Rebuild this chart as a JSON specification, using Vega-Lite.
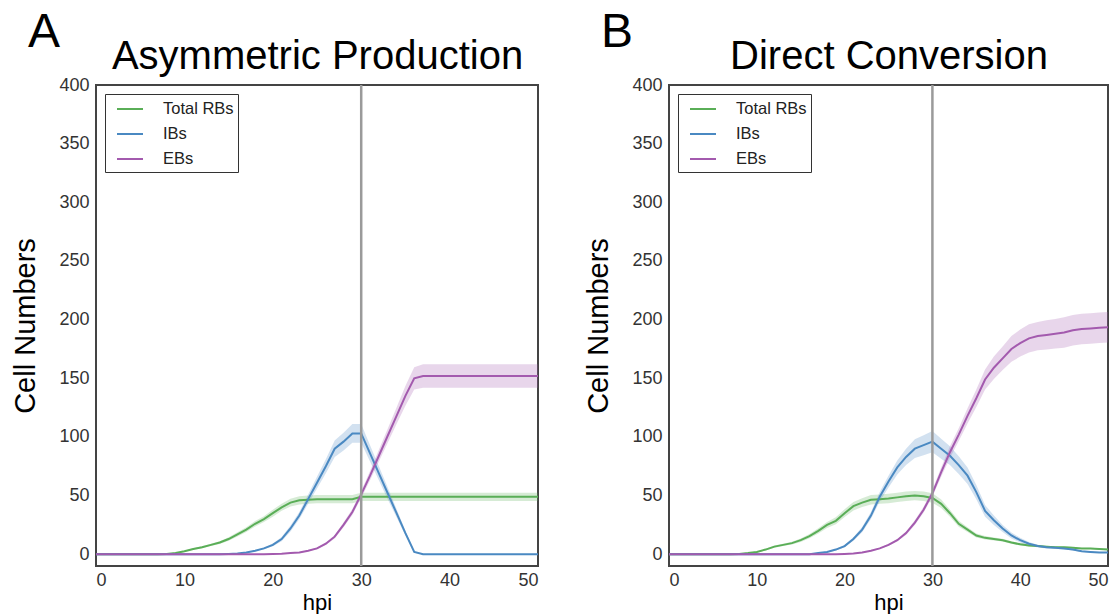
{
  "$schema": "https://vega.github.io/schema/vega-lite/v6.json",
  "padding": {"left": 10, "top": 8, "right": 5, "bottom": 0},
  "background": "white",
  "config": {
    "font": "Liberation Sans",
    "view": {"stroke": "#444444", "strokeWidth": 2},
    "axis": {"grid": false, "ticks": false, "tickSize": 0, "domain": false, "labelFontSize": 18, "labelColor": "#333333", "titleFontWeight": "normal", "titleColor": "#000000"},
    "title": {"fontWeight": "normal", "fontSize": 48, "anchor": "start", "frame": "bounds", "color": "#000000"}
  },
  "datasets": {
    "marker": [{"hpi": 30}],
    "A": [
      {"s":"Total RBs","t":0,"v":0,"lo":0,"hi":0},
      {"s":"Total RBs","t":7,"v":0,"lo":0,"hi":0},
      {"s":"Total RBs","t":8,"v":0.2,"lo":0.1,"hi":0.3},
      {"s":"Total RBs","t":9,"v":1,"lo":0.7,"hi":1.3},
      {"s":"Total RBs","t":10,"v":2.5,"lo":2,"hi":3},
      {"s":"Total RBs","t":11,"v":4.5,"lo":3.8,"hi":5.2},
      {"s":"Total RBs","t":12,"v":6,"lo":5.2,"hi":6.8},
      {"s":"Total RBs","t":13,"v":8,"lo":7,"hi":9},
      {"s":"Total RBs","t":14,"v":10,"lo":8.8,"hi":11.2},
      {"s":"Total RBs","t":15,"v":13,"lo":11.5,"hi":14.5},
      {"s":"Total RBs","t":16,"v":17,"lo":15.2,"hi":18.8},
      {"s":"Total RBs","t":17,"v":21,"lo":19,"hi":23},
      {"s":"Total RBs","t":18,"v":26,"lo":23.7,"hi":28.3},
      {"s":"Total RBs","t":19,"v":30,"lo":27.5,"hi":32.5},
      {"s":"Total RBs","t":20,"v":35,"lo":32,"hi":38},
      {"s":"Total RBs","t":21,"v":40,"lo":37,"hi":43},
      {"s":"Total RBs","t":22,"v":44,"lo":40.7,"hi":47.3},
      {"s":"Total RBs","t":23,"v":46,"lo":42.5,"hi":49.5},
      {"s":"Total RBs","t":24,"v":46.5,"lo":43,"hi":50},
      {"s":"Total RBs","t":25,"v":47,"lo":43.5,"hi":50.5},
      {"s":"Total RBs","t":29,"v":47,"lo":43.5,"hi":50.5},
      {"s":"Total RBs","t":30,"v":49,"lo":45.5,"hi":52.5},
      {"s":"Total RBs","t":50,"v":49,"lo":45.5,"hi":52.5},
      {"s":"IBs","t":0,"v":0,"lo":0,"hi":0},
      {"s":"IBs","t":14,"v":0,"lo":0,"hi":0},
      {"s":"IBs","t":15,"v":0.3,"lo":0.2,"hi":0.4},
      {"s":"IBs","t":16,"v":0.7,"lo":0.5,"hi":0.9},
      {"s":"IBs","t":17,"v":1.5,"lo":1.2,"hi":1.8},
      {"s":"IBs","t":18,"v":3,"lo":2.5,"hi":3.5},
      {"s":"IBs","t":19,"v":5,"lo":4.2,"hi":5.8},
      {"s":"IBs","t":20,"v":8,"lo":6.8,"hi":9.2},
      {"s":"IBs","t":21,"v":13,"lo":11.2,"hi":14.8},
      {"s":"IBs","t":22,"v":22,"lo":19.5,"hi":24.5},
      {"s":"IBs","t":23,"v":33,"lo":30,"hi":36},
      {"s":"IBs","t":24,"v":47,"lo":43,"hi":51},
      {"s":"IBs","t":25,"v":61,"lo":56,"hi":66},
      {"s":"IBs","t":26,"v":75,"lo":69,"hi":81},
      {"s":"IBs","t":27,"v":90,"lo":83,"hi":97},
      {"s":"IBs","t":28,"v":96,"lo":88.5,"hi":103.5},
      {"s":"IBs","t":29,"v":103,"lo":95,"hi":111},
      {"s":"IBs","t":30,"v":103,"lo":95,"hi":111},
      {"s":"IBs","t":31,"v":86,"lo":79,"hi":93},
      {"s":"IBs","t":32,"v":69,"lo":63,"hi":75},
      {"s":"IBs","t":33,"v":52,"lo":47,"hi":57},
      {"s":"IBs","t":34,"v":35,"lo":31.5,"hi":38.5},
      {"s":"IBs","t":35,"v":18,"lo":16,"hi":20},
      {"s":"IBs","t":36,"v":2,"lo":1.2,"hi":2.8},
      {"s":"IBs","t":37,"v":0,"lo":0,"hi":0},
      {"s":"IBs","t":50,"v":0,"lo":0,"hi":0},
      {"s":"EBs","t":0,"v":0,"lo":0,"hi":0},
      {"s":"EBs","t":19,"v":0,"lo":0,"hi":0},
      {"s":"EBs","t":20,"v":0.3,"lo":0.3,"hi":0.3},
      {"s":"EBs","t":21,"v":0.5,"lo":0.4,"hi":0.6},
      {"s":"EBs","t":22,"v":1,"lo":0.8,"hi":1.2},
      {"s":"EBs","t":23,"v":1.5,"lo":1.2,"hi":1.8},
      {"s":"EBs","t":24,"v":3,"lo":2.5,"hi":3.5},
      {"s":"EBs","t":25,"v":5,"lo":4.3,"hi":5.7},
      {"s":"EBs","t":26,"v":9,"lo":8,"hi":10},
      {"s":"EBs","t":27,"v":15,"lo":13.5,"hi":16.5},
      {"s":"EBs","t":28,"v":25,"lo":23,"hi":27},
      {"s":"EBs","t":29,"v":36,"lo":33.5,"hi":38.5},
      {"s":"EBs","t":30,"v":51,"lo":48,"hi":54},
      {"s":"EBs","t":31,"v":67,"lo":63,"hi":71},
      {"s":"EBs","t":32,"v":84,"lo":79,"hi":89},
      {"s":"EBs","t":33,"v":101,"lo":95,"hi":107},
      {"s":"EBs","t":34,"v":118,"lo":111,"hi":125},
      {"s":"EBs","t":35,"v":135,"lo":126.5,"hi":143.5},
      {"s":"EBs","t":36,"v":150,"lo":140.5,"hi":159.5},
      {"s":"EBs","t":37,"v":152,"lo":142,"hi":162},
      {"s":"EBs","t":50,"v":152,"lo":142,"hi":162}
    ],
    "B": [
      {"s":"Total RBs","t":0,"v":0,"lo":0,"hi":0},
      {"s":"Total RBs","t":7,"v":0,"lo":0,"hi":0},
      {"s":"Total RBs","t":8,"v":0.3,"lo":0.2,"hi":0.4},
      {"s":"Total RBs","t":9,"v":1,"lo":0.7,"hi":1.3},
      {"s":"Total RBs","t":10,"v":2,"lo":1.5,"hi":2.5},
      {"s":"Total RBs","t":11,"v":4,"lo":3.3,"hi":4.7},
      {"s":"Total RBs","t":12,"v":6.5,"lo":5.6,"hi":7.4},
      {"s":"Total RBs","t":13,"v":8,"lo":7,"hi":9},
      {"s":"Total RBs","t":14,"v":9.5,"lo":8.3,"hi":10.7},
      {"s":"Total RBs","t":15,"v":12,"lo":10.5,"hi":13.5},
      {"s":"Total RBs","t":16,"v":15.5,"lo":13.7,"hi":17.3},
      {"s":"Total RBs","t":17,"v":20,"lo":17.8,"hi":22.2},
      {"s":"Total RBs","t":18,"v":25,"lo":22.4,"hi":27.6},
      {"s":"Total RBs","t":19,"v":28.5,"lo":25.5,"hi":31.5},
      {"s":"Total RBs","t":20,"v":35,"lo":31.7,"hi":38.3},
      {"s":"Total RBs","t":21,"v":41,"lo":37.4,"hi":44.6},
      {"s":"Total RBs","t":22,"v":44,"lo":40.2,"hi":47.8},
      {"s":"Total RBs","t":23,"v":46.5,"lo":42.5,"hi":50.5},
      {"s":"Total RBs","t":24,"v":47,"lo":43,"hi":51},
      {"s":"Total RBs","t":25,"v":47.5,"lo":43.5,"hi":51.5},
      {"s":"Total RBs","t":26,"v":48.5,"lo":44.5,"hi":52.5},
      {"s":"Total RBs","t":27,"v":49.5,"lo":45.5,"hi":53.5},
      {"s":"Total RBs","t":28,"v":50,"lo":46,"hi":54},
      {"s":"Total RBs","t":29,"v":49.5,"lo":45.5,"hi":53.5},
      {"s":"Total RBs","t":30,"v":48,"lo":44,"hi":52},
      {"s":"Total RBs","t":31,"v":43,"lo":39.4,"hi":46.6},
      {"s":"Total RBs","t":32,"v":35,"lo":32,"hi":38},
      {"s":"Total RBs","t":33,"v":26,"lo":23.5,"hi":28.5},
      {"s":"Total RBs","t":34,"v":21,"lo":19,"hi":23},
      {"s":"Total RBs","t":35,"v":16,"lo":14.2,"hi":17.8},
      {"s":"Total RBs","t":36,"v":14,"lo":12.5,"hi":15.5},
      {"s":"Total RBs","t":37,"v":13,"lo":11.7,"hi":14.3},
      {"s":"Total RBs","t":38,"v":12,"lo":10.8,"hi":13.2},
      {"s":"Total RBs","t":39,"v":10,"lo":9,"hi":11},
      {"s":"Total RBs","t":40,"v":8.5,"lo":7.5,"hi":9.5},
      {"s":"Total RBs","t":41,"v":7.5,"lo":6.6,"hi":8.4},
      {"s":"Total RBs","t":42,"v":7,"lo":6.2,"hi":7.8},
      {"s":"Total RBs","t":43,"v":6.5,"lo":5.7,"hi":7.3},
      {"s":"Total RBs","t":44,"v":6,"lo":5.3,"hi":6.7},
      {"s":"Total RBs","t":45,"v":6,"lo":5.3,"hi":6.7},
      {"s":"Total RBs","t":46,"v":5.5,"lo":4.8,"hi":6.2},
      {"s":"Total RBs","t":47,"v":5,"lo":4.4,"hi":5.6},
      {"s":"Total RBs","t":48,"v":5,"lo":4.4,"hi":5.6},
      {"s":"Total RBs","t":49,"v":4.5,"lo":3.9,"hi":5.1},
      {"s":"Total RBs","t":50,"v":4,"lo":3.4,"hi":4.6},
      {"s":"IBs","t":0,"v":0,"lo":0,"hi":0},
      {"s":"IBs","t":16,"v":0,"lo":0,"hi":0},
      {"s":"IBs","t":17,"v":1,"lo":0.8,"hi":1.2},
      {"s":"IBs","t":18,"v":2,"lo":1.6,"hi":2.4},
      {"s":"IBs","t":19,"v":4,"lo":3.3,"hi":4.7},
      {"s":"IBs","t":20,"v":7,"lo":6,"hi":8},
      {"s":"IBs","t":21,"v":13,"lo":11.5,"hi":14.5},
      {"s":"IBs","t":22,"v":21,"lo":18.8,"hi":23.2},
      {"s":"IBs","t":23,"v":33,"lo":30,"hi":36},
      {"s":"IBs","t":24,"v":49,"lo":45,"hi":53},
      {"s":"IBs","t":25,"v":62,"lo":57,"hi":67},
      {"s":"IBs","t":26,"v":74,"lo":68,"hi":80},
      {"s":"IBs","t":27,"v":83,"lo":76,"hi":90},
      {"s":"IBs","t":28,"v":90,"lo":82,"hi":98},
      {"s":"IBs","t":29,"v":93,"lo":84.5,"hi":101.5},
      {"s":"IBs","t":30,"v":96,"lo":87,"hi":105},
      {"s":"IBs","t":31,"v":90,"lo":81.5,"hi":98.5},
      {"s":"IBs","t":32,"v":84,"lo":76,"hi":92},
      {"s":"IBs","t":33,"v":76,"lo":68.5,"hi":83.5},
      {"s":"IBs","t":34,"v":67,"lo":60,"hi":74},
      {"s":"IBs","t":35,"v":53,"lo":47,"hi":59},
      {"s":"IBs","t":36,"v":37,"lo":32,"hi":42},
      {"s":"IBs","t":37,"v":29,"lo":25,"hi":33},
      {"s":"IBs","t":38,"v":22,"lo":19,"hi":25},
      {"s":"IBs","t":39,"v":16,"lo":13.5,"hi":18.5},
      {"s":"IBs","t":40,"v":12,"lo":10,"hi":14},
      {"s":"IBs","t":41,"v":9,"lo":7.5,"hi":10.5},
      {"s":"IBs","t":42,"v":7,"lo":5.8,"hi":8.2},
      {"s":"IBs","t":43,"v":6,"lo":5,"hi":7},
      {"s":"IBs","t":44,"v":5.5,"lo":4.5,"hi":6.5},
      {"s":"IBs","t":45,"v":5,"lo":4.2,"hi":5.8},
      {"s":"IBs","t":46,"v":4,"lo":3.3,"hi":4.7},
      {"s":"IBs","t":47,"v":2.5,"lo":1.9,"hi":3.1},
      {"s":"IBs","t":48,"v":2,"lo":1.5,"hi":2.5},
      {"s":"IBs","t":49,"v":1.5,"lo":1,"hi":2},
      {"s":"IBs","t":50,"v":1.5,"lo":1,"hi":2},
      {"s":"EBs","t":0,"v":0,"lo":0,"hi":0},
      {"s":"EBs","t":19,"v":0,"lo":0,"hi":0},
      {"s":"EBs","t":20,"v":0.3,"lo":0.3,"hi":0.3},
      {"s":"EBs","t":21,"v":0.7,"lo":0.6,"hi":0.8},
      {"s":"EBs","t":22,"v":1.5,"lo":1.3,"hi":1.7},
      {"s":"EBs","t":23,"v":3,"lo":2.6,"hi":3.4},
      {"s":"EBs","t":24,"v":5,"lo":4.4,"hi":5.6},
      {"s":"EBs","t":25,"v":8,"lo":7.2,"hi":8.8},
      {"s":"EBs","t":26,"v":12,"lo":11,"hi":13},
      {"s":"EBs","t":27,"v":18,"lo":16.5,"hi":19.5},
      {"s":"EBs","t":28,"v":27,"lo":25,"hi":29},
      {"s":"EBs","t":29,"v":38,"lo":35.5,"hi":40.5},
      {"s":"EBs","t":30,"v":52,"lo":49,"hi":55},
      {"s":"EBs","t":31,"v":70,"lo":66,"hi":74},
      {"s":"EBs","t":32,"v":87,"lo":82,"hi":92},
      {"s":"EBs","t":33,"v":102,"lo":96.5,"hi":107.5},
      {"s":"EBs","t":34,"v":118,"lo":111.5,"hi":124.5},
      {"s":"EBs","t":35,"v":133,"lo":125.5,"hi":140.5},
      {"s":"EBs","t":36,"v":149,"lo":140.5,"hi":157.5},
      {"s":"EBs","t":37,"v":159,"lo":149.5,"hi":168.5},
      {"s":"EBs","t":38,"v":167,"lo":157,"hi":177},
      {"s":"EBs","t":39,"v":175,"lo":164,"hi":186},
      {"s":"EBs","t":40,"v":180,"lo":168.5,"hi":191.5},
      {"s":"EBs","t":41,"v":184,"lo":172,"hi":196},
      {"s":"EBs","t":42,"v":186,"lo":174,"hi":198},
      {"s":"EBs","t":43,"v":187,"lo":174.5,"hi":199.5},
      {"s":"EBs","t":44,"v":188,"lo":175.5,"hi":200.5},
      {"s":"EBs","t":45,"v":189,"lo":176,"hi":202},
      {"s":"EBs","t":46,"v":191,"lo":178,"hi":204},
      {"s":"EBs","t":47,"v":192,"lo":179,"hi":205},
      {"s":"EBs","t":48,"v":192.5,"lo":179.5,"hi":205.5},
      {"s":"EBs","t":49,"v":193,"lo":180,"hi":206},
      {"s":"EBs","t":50,"v":193.5,"lo":180.5,"hi":206.5}
    ]
  },
  "spacing": 40,
  "resolve": {"scale": {"color": "independent"}, "legend": {"color": "independent"}},
  "hconcat": [
    {
      "width": 442, "height": 481,
      "title": {"text": "A", "dx": 16, "dy": 27, "offset": -32, "baseline": "alphabetic"},
      "resolve": {"axis": {"x": "independent"}},
      "layer": [
        {
          "data": {"name": "A"},
          "transform": [{"filter": "datum.s === 'Total RBs'"}],
          "mark": {"type": "area", "opacity": 0.25, "fill": "#5aae57"},
          "encoding": {
            "x": {"field": "t", "type": "quantitative", "scale": {"domain": [0, 50], "nice": false}, "axis": null},
            "y": {"field": "lo", "type": "quantitative", "scale": {"domain": [-10, 400], "nice": false}, "axis": {"values": [0,50,100,150,200,250,300,350,400], "title": "Cell Numbers", "titleFontSize": 29, "titlePadding": 18, "labelPadding": 7, "labelFontSize": 18}},
            "y2": {"field": "hi"}
          }
        },
        {
          "data": {"name": "A"},
          "transform": [{"filter": "datum.s === 'IBs'"}],
          "mark": {"type": "area", "opacity": 0.25, "fill": "#4a89c2"},
          "encoding": {
            "x": {"field": "t", "type": "quantitative", "scale": {"domain": [0, 50], "nice": false}, "axis": null},
            "y": {"field": "lo", "type": "quantitative", "scale": {"domain": [-10, 400], "nice": false}, "axis": {"values": [0,50,100,150,200,250,300,350,400], "title": "Cell Numbers", "titleFontSize": 29, "titlePadding": 18, "labelPadding": 7, "labelFontSize": 18}},
            "y2": {"field": "hi"}
          }
        },
        {
          "data": {"name": "A"},
          "transform": [{"filter": "datum.s === 'EBs'"}],
          "mark": {"type": "area", "opacity": 0.25, "fill": "#a35aae"},
          "encoding": {
            "x": {"field": "t", "type": "quantitative", "scale": {"domain": [0, 50], "nice": false}, "axis": null},
            "y": {"field": "lo", "type": "quantitative", "scale": {"domain": [-10, 400], "nice": false}, "axis": {"values": [0,50,100,150,200,250,300,350,400], "title": "Cell Numbers", "titleFontSize": 29, "titlePadding": 18, "labelPadding": 7, "labelFontSize": 18}},
            "y2": {"field": "hi"}
          }
        },
        {
          "data": {"name": "A"},
          "mark": {"type": "line", "strokeWidth": 2},
          "encoding": {
            "x": {"field": "t", "type": "quantitative", "scale": {"domain": [0, 50], "nice": false}, "axis": {"values": [0,10,20,30,40,50], "title": "hpi", "titleFontSize": 22, "titlePadding": 3, "labelPadding": 5, "labelFontSize": 18}},
            "y": {"field": "v", "type": "quantitative", "scale": {"domain": [-10, 400], "nice": false}, "axis": {"values": [0,50,100,150,200,250,300,350,400], "title": "Cell Numbers", "titleFontSize": 29, "titlePadding": 18, "labelPadding": 7, "labelFontSize": 18}},
            "color": {"field": "s", "type": "nominal", "scale": {"domain": ["Total RBs", "IBs", "EBs"], "range": ["#5aae57", "#4a89c2", "#a35aae"]}, "legend": {"title": null, "orient": "top-left", "offset": 9, "strokeColor": "#333333", "fillColor": "white", "padding": 4, "symbolType": "M-1.3,0H1.3", "symbolSize": 400, "symbolStrokeWidth": 2, "symbolOffset": 10, "labelOffset": 22, "labelFontSize": 16.5, "labelColor": "#222222", "rowPadding": 5}}
          }
        },
        {
          "data": {"name": "marker"},
          "mark": {"type": "rule", "color": "#9a9a9a", "strokeWidth": 2.5},
          "encoding": {
            "x": {"field": "hpi", "type": "quantitative", "scale": {"domain": [0, 50], "nice": false}, "axis": {"orient": "top", "labels": false, "ticks": false, "domain": false, "title": "Asymmetric Production", "titleFontSize": 40, "titleBaseline": "alphabetic", "titlePadding": 17}}
          }
        }
      ]
    },
    {
      "width": 439, "height": 481,
      "title": {"text": "B", "dx": 16, "dy": 27, "offset": -32, "baseline": "alphabetic"},
      "resolve": {"axis": {"x": "independent"}},
      "layer": [
        {
          "data": {"name": "B"},
          "transform": [{"filter": "datum.s === 'Total RBs'"}],
          "mark": {"type": "area", "opacity": 0.25, "fill": "#5aae57"},
          "encoding": {
            "x": {"field": "t", "type": "quantitative", "scale": {"domain": [0, 50], "nice": false}, "axis": null},
            "y": {"field": "lo", "type": "quantitative", "scale": {"domain": [-10, 400], "nice": false}, "axis": {"values": [0,50,100,150,200,250,300,350,400], "title": "Cell Numbers", "titleFontSize": 29, "titlePadding": 18, "labelPadding": 7, "labelFontSize": 18}},
            "y2": {"field": "hi"}
          }
        },
        {
          "data": {"name": "B"},
          "transform": [{"filter": "datum.s === 'IBs'"}],
          "mark": {"type": "area", "opacity": 0.25, "fill": "#4a89c2"},
          "encoding": {
            "x": {"field": "t", "type": "quantitative", "scale": {"domain": [0, 50], "nice": false}, "axis": null},
            "y": {"field": "lo", "type": "quantitative", "scale": {"domain": [-10, 400], "nice": false}, "axis": {"values": [0,50,100,150,200,250,300,350,400], "title": "Cell Numbers", "titleFontSize": 29, "titlePadding": 18, "labelPadding": 7, "labelFontSize": 18}},
            "y2": {"field": "hi"}
          }
        },
        {
          "data": {"name": "B"},
          "transform": [{"filter": "datum.s === 'EBs'"}],
          "mark": {"type": "area", "opacity": 0.25, "fill": "#a35aae"},
          "encoding": {
            "x": {"field": "t", "type": "quantitative", "scale": {"domain": [0, 50], "nice": false}, "axis": null},
            "y": {"field": "lo", "type": "quantitative", "scale": {"domain": [-10, 400], "nice": false}, "axis": {"values": [0,50,100,150,200,250,300,350,400], "title": "Cell Numbers", "titleFontSize": 29, "titlePadding": 18, "labelPadding": 7, "labelFontSize": 18}},
            "y2": {"field": "hi"}
          }
        },
        {
          "data": {"name": "B"},
          "mark": {"type": "line", "strokeWidth": 2},
          "encoding": {
            "x": {"field": "t", "type": "quantitative", "scale": {"domain": [0, 50], "nice": false}, "axis": {"values": [0,10,20,30,40,50], "title": "hpi", "titleFontSize": 22, "titlePadding": 3, "labelPadding": 5, "labelFontSize": 18}},
            "y": {"field": "v", "type": "quantitative", "scale": {"domain": [-10, 400], "nice": false}, "axis": {"values": [0,50,100,150,200,250,300,350,400], "title": "Cell Numbers", "titleFontSize": 29, "titlePadding": 18, "labelPadding": 7, "labelFontSize": 18}},
            "color": {"field": "s", "type": "nominal", "scale": {"domain": ["Total RBs", "IBs", "EBs"], "range": ["#5aae57", "#4a89c2", "#a35aae"]}, "legend": {"title": null, "orient": "top-left", "offset": 9, "strokeColor": "#333333", "fillColor": "white", "padding": 4, "symbolType": "M-1.3,0H1.3", "symbolSize": 400, "symbolStrokeWidth": 2, "symbolOffset": 10, "labelOffset": 22, "labelFontSize": 16.5, "labelColor": "#222222", "rowPadding": 5}}
          }
        },
        {
          "data": {"name": "marker"},
          "mark": {"type": "rule", "color": "#9a9a9a", "strokeWidth": 2.5},
          "encoding": {
            "x": {"field": "hpi", "type": "quantitative", "scale": {"domain": [0, 50], "nice": false}, "axis": {"orient": "top", "labels": false, "ticks": false, "domain": false, "title": "Direct Conversion", "titleFontSize": 40, "titleBaseline": "alphabetic", "titlePadding": 17}}
          }
        }
      ]
    }
  ]
}
